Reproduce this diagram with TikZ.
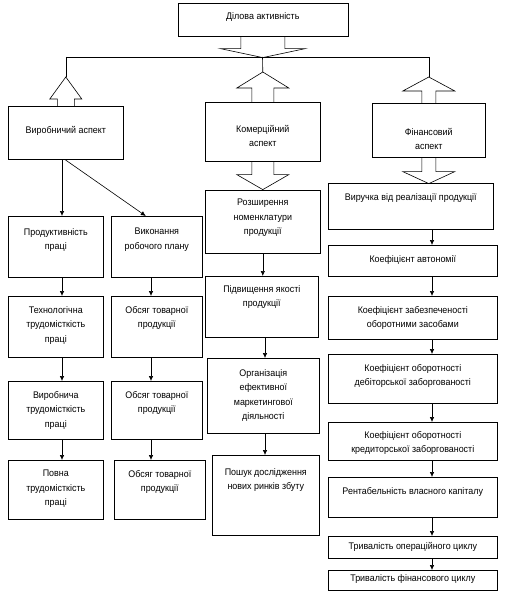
\documentclass[tikz,border=0pt]{standalone}
\usepackage{fontspec}
\setmainfont{Liberation Sans}[FakeStretch=0.93]
\usetikzlibrary{arrows.meta, positioning, calc}

\begin{document}
\begin{tikzpicture}[
    x=1pt, y=-1pt,
    >={Latex[length=5pt,width=4.5pt]},
    box/.style={draw, line width=0.6pt, anchor=north west, inner sep=0pt},
    txt/.style={align=center, inner sep=0pt,
                font=\fontsize{9.6}{14.5}\selectfont},
    arr/.style={->, line width=0.6pt},
    pics/blk/.style args={#1/#2/#3/#4}{code={
      \draw[line width=0.6pt] (-#1,0) -- (-#1,#3) -- (-#2,#3) -- (0,#4)
        -- (#2,#3) -- (#1,#3) -- (#1,0);
    }}
  ]
  \useasboundingbox (0,0) rectangle (515,602);

  % top level
  \node[box, minimum width=170, minimum height=33] (dil) at (177.5,3) {};
  \node[txt, below=9pt of dil.north] (dilT) {Ділова активність};

  % three aspects
  \node[box, minimum width=115, minimum height=53] (vyr) at (8,106) {};
  \node[txt, below=20pt of vyr.north] (vyrT) {Виробничий аспект};
  \node[box, minimum width=115, minimum height=59] (kom) at (205,102) {};
  \node[txt, below=23pt of kom.north] (komT) {Комерційний\\аспект};
  \node[box, minimum width=113, minimum height=54] (fin) at (372,103) {};
  \node[txt, below=25pt of fin.north] (finT) {Фінансовий\\аспект};

  % production column 1
  \node[box, minimum width=95, minimum height=61] (prod) at (8,216) {};
  \node[txt, below=12pt of prod.north] (prodT) {Продуктивність\\праці};
  \node[box, minimum width=95, minimum height=61] (tekh) at (8,296) {};
  \node[txt, below=10pt of tekh.north] (tekhT) {Технологічна\\трудомісткість\\праці};
  \node[box, minimum width=95, minimum height=58] (vtr) at (8,381) {};
  \node[txt, below=10pt of vtr.north] (vtrT) {Виробнича\\трудомісткість\\праці};
  \node[box, minimum width=95, minimum height=59] (povna) at (8,460) {};
  \node[txt, below=10pt of povna.north] (povnaT) {Повна\\трудомісткість\\праці};

  % production column 2
  \node[box, minimum width=91, minimum height=61] (vyk) at (111,216) {};
  \node[txt, below=12pt of vyk.north] (vykT) {Виконання\\робочого плану};
  \node[box, minimum width=91, minimum height=61] (obs1) at (111,296) {};
  \node[txt, below=10pt of obs1.north] (obs1T) {Обсяг товарної\\продукції};
  \node[box, minimum width=91, minimum height=58] (obs2) at (111,381) {};
  \node[txt, below=10pt of obs2.north] (obs2T) {Обсяг товарної\\продукції};
  \node[box, minimum width=91, minimum height=59] (obs3) at (114,460) {};
  \node[txt, below=10pt of obs3.north] (obs3T) {Обсяг товарної\\продукції};

  % commercial column
  \node[box, minimum width=115, minimum height=63] (rozsh) at (205,190) {};
  \node[txt, below=9pt of rozsh.north] (rozshT) {Розширення\\номенклатури\\продукції};
  \node[box, minimum width=113, minimum height=61] (pidv) at (205,276) {};
  \node[txt, below=9pt of pidv.north] (pidvT) {Підвищення якості\\продукції};
  \node[box, minimum width=112, minimum height=75] (org) at (207,358) {};
  \node[txt, below=11pt of org.north] (orgT) {Організація\\ефективної\\маркетингової\\діяльності};
  \node[box, minimum width=107, minimum height=80] (posh) at (212,455) {};
  \node[txt, below=13pt of posh.north] (poshT) {Пошук дослідження\\нових ринків збуту};

  % financial column
  \node[box, minimum width=165, minimum height=46] (vruch) at (328,183) {};
  \node[txt, below=10pt of vruch.north] (vruchT) {Виручка від реалізації продукції};
  \node[box, minimum width=169, minimum height=31] (avt) at (328,245) {};
  \node[txt, below=10pt of avt.north] (avtT) {Коефіцієнт автономії};
  \node[box, minimum width=169, minimum height=43] (zab) at (328,296) {};
  \node[txt, below=10pt of zab.north] (zabT) {Коефіцієнт забезпеченості\\оборотними засобами};
  \node[box, minimum width=169, minimum height=49] (deb) at (328,354) {};
  \node[txt, below=10pt of deb.north] (debT) {Коефіцієнт оборотності\\дебіторської заборгованості};
  \node[box, minimum width=169, minimum height=38] (kred) at (328,422) {};
  \node[txt, below=9pt of kred.north] (kredT) {Коефіцієнт оборотності\\кредиторської заборгованості};
  \node[box, minimum width=169, minimum height=40] (rent) at (328,477) {};
  \node[txt, below=10pt of rent.north] (rentT) {Рентабельність власного капіталу};
  \node[box, minimum width=169, minimum height=22] (oper) at (328,536) {};
  \node[txt, below=6pt of oper.north] (operT) {Тривалість операційного циклу};
  \node[box, minimum width=169, minimum height=20] (finc) at (328,570) {};
  \node[txt, below=4pt of finc.north] (fincT) {Тривалість фінансового циклу};

  % block arrows and the joining line
  \coordinate (jn) at (262.5,57);
  \pic at (dil.south) {blk=22/42.5/12/21};
  \draw[line width=0.6pt] (jn -| vyr.north) -- (jn -| fin.north);
  \draw[line width=0.6pt] (jn -| vyr.north) -- ([yshift=29pt]vyr.north);
  \draw[line width=0.6pt] (jn) -- ([yshift=30pt]kom.north);
  \draw[line width=0.6pt] (jn -| fin.north) -- ([yshift=26pt]fin.north);
  \pic at (vyr.north) {blk=8.5/16/-7/-29};
  \pic at (kom.north) {blk=11/26/-14/-30};
  \pic at (kom.south) {blk=11/26/13/28};
  \pic at (fin.north) {blk=7/26/-12/-26};
  \pic at (fin.south) {blk=7/26/14/26};

  % plain arrows
  \coordinate (c1) at (62,0);
  \coordinate (c2) at (151,0);
  \coordinate (c3) at (265,0);
  \coordinate (c4) at (432,0);
  \draw[arr] (vyr.south -| c1) -- (prod.north -| c1);
  \draw[arr] ($(vyr.south -| c1)+(3,0)$) -- ($(vyk.north)+(-11,0)$);
  \draw[arr] (prod.south -| c1) -- (tekh.north -| c1);
  \draw[arr] (tekh.south -| c1) -- (vtr.north -| c1);
  \draw[arr] (vtr.south -| c1) -- (povna.north -| c1);
  \draw[arr] (vyk.south -| c2) -- (obs1.north -| c2);
  \draw[arr] (obs1.south -| c2) -- (obs2.north -| c2);
  \draw[arr] (obs2.south -| c2) -- (obs3.north -| c2);
  \draw[arr] (rozsh.south) -- (pidv.north -| rozsh.south);
  \draw[arr] (pidv.south -| c3) -- (org.north -| c3);
  \draw[arr] (org.south -| c3) -- (posh.north -| c3);
  \draw[arr] (vruch.south -| c4) -- (avt.north -| c4);
  \draw[arr] (avt.south -| c4) -- (zab.north -| c4);
  \draw[arr] (zab.south -| c4) -- (deb.north -| c4);
  \draw[arr] (deb.south -| c4) -- (kred.north -| c4);
  \draw[arr] (kred.south -| c4) -- (rent.north -| c4);
  \draw[arr] (rent.south -| c4) -- (oper.north -| c4);
  \draw[arr] (oper.south -| c4) -- (finc.north -| c4);
\end{tikzpicture}
\end{document}
